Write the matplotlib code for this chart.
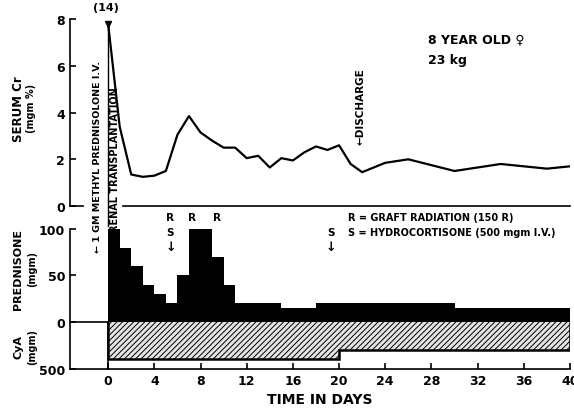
import numpy as np
import matplotlib
matplotlib.use("Agg")
import matplotlib.pyplot as plt

plt.rcParams['font.family'] = ['DejaVu Sans']
plt.rcParams['font.weight'] = 'bold'
plt.rcParams['hatch.linewidth'] = 0.7

# serum creatinine (mgm %), day 0 is off scale (14)
cr_days = [0, 1, 2, 3, 4, 5, 6, 7, 8, 9, 10, 11, 12, 13, 14, 15, 16, 17, 18, 19, 20,
           21, 22, 23, 24, 26, 28, 30, 32, 34, 36, 38, 40]
cr_vals = [7.8, 3.4, 1.35, 1.25, 1.3, 1.5, 3.05, 3.85, 3.15, 2.8, 2.5, 2.5, 2.05, 2.15,
           1.65, 2.05, 1.95, 2.3, 2.55, 2.4, 2.6, 1.8, 1.45, 1.65, 1.85, 2.0, 1.75,
           1.5, 1.65, 1.8, 1.7, 1.6, 1.7]

# prednisone (mgm) steps
pred_edges = [0, 1, 2, 3, 4, 5, 6, 7, 9, 10, 11, 15, 18, 30, 40]
pred_dose = [100, 80, 60, 40, 30, 20, 50, 100, 70, 40, 20, 15, 20, 15]

# cyclosporin A (mgm) steps
cya_edges = [0, 20, 40]
cya_dose = [400, 300]

x_ticks = [0, 4, 8, 12, 16, 20, 24, 28, 32, 36, 40]
xlo, xhi = -3.3, 40

fig = plt.figure(figsize=(5.74, 4.10), dpi=100)
ax1 = fig.add_axes([0.122, 0.495, 0.871, 0.456])
ax2 = fig.add_axes([0.122, 0.0976, 0.871, 0.3415])
ax1.set_zorder(3)
ax1.patch.set_visible(False)

# ---- top panel
ax1.plot(cr_days, cr_vals, color='black', lw=1.6)
ax1.plot([0], [7.8], marker='v', color='black', ms=5, clip_on=False)
ax1.text(-0.2, 8.3, '(14)', ha='center', va='bottom', fontsize=8, clip_on=False)
ax1.plot([0, 0], [7.8, -0.85], color='black', lw=1.0, clip_on=False)
ax1.plot([xlo, -2.2], [0, 0], color='black', lw=1.2, clip_on=False)
ax1.plot([1.3, 40], [0, 0], color='black', lw=1.2, clip_on=False)
ax1.set_xlim(xlo, xhi)
ax1.set_ylim(0, 8)
ax1.set_yticks([0, 2, 4, 6, 8])
ax1.set_xticks([])
for s in ['top', 'right', 'bottom']:
    ax1.spines[s].set_visible(False)
ax1.spines['left'].set_linewidth(1.2)
ax1.tick_params(axis='y', direction='in', length=4, width=1.2, labelsize=9)
for lab in ax1.get_yticklabels():
    lab.set_fontweight('bold')
ax1.text(-7.8, 4.2, 'SERUM Cr', rotation=90, ha='center', va='center', fontsize=8.5, clip_on=False)
ax1.text(-6.7, 4.2, '(mgm %)', rotation=90, ha='center', va='center', fontsize=7, clip_on=False)

ax1.text(-0.95, -1.97, '\u2190 1 GM METHYL PREDNISOLONE I.V.', rotation=90,
         ha='center', va='bottom', fontsize=6.8, clip_on=False)
ax1.text(0.6, -1.07, 'RENAL TRANSPLANTATION', rotation=90,
         ha='center', va='bottom', fontsize=7, clip_on=False)
ax1.text(21.85, 2.65, '\u2190DISCHARGE', rotation=90, ha='center', va='bottom', fontsize=7.5)
ax1.text(27.7, 7.14, '8 YEAR OLD \u2640', ha='left', va='center', fontsize=9)
ax1.text(27.7, 6.28, '23 kg', ha='left', va='center', fontsize=9)

# ---- bottom panel
ax2.stairs(pred_dose, pred_edges, baseline=0, fill=True, color='black')
cya_plot = -np.array(cya_dose) / 10.0
ax2.stairs(cya_plot, cya_edges, baseline=0, fill=True, facecolor='#e4e4e4',
           edgecolor='black', hatch='//////', lw=0)
ax2.stairs(cya_plot, cya_edges, baseline=0, fill=False, color='black', lw=1.8)
ax2.plot([xlo, 0], [0, 0], color='black', lw=1.2, clip_on=False)
ax2.plot([0, 0], [0, -50.5], color='black', lw=1.2, clip_on=False)

ax2.set_xlim(xlo, xhi)
ax2.set_ylim(-50.5, 100)
ax2.set_yticks([100, 50, 0, -50])
ax2.set_yticklabels(['100', '50', '0', '500'])
ax2.set_xticks(x_ticks)
for s in ['top', 'right']:
    ax2.spines[s].set_visible(False)
ax2.spines['left'].set_linewidth(1.2)
ax2.spines['bottom'].set_linewidth(1.2)
ax2.tick_params(direction='in', length=4, width=1.2, labelsize=9)
for lab in ax2.get_xticklabels() + ax2.get_yticklabels():
    lab.set_fontweight('bold')
ax2.set_xlabel('TIME IN DAYS', fontsize=10, fontweight='bold', labelpad=4)

ax2.text(-7.8, 58, 'PREDNISONE', rotation=90, ha='center', va='center', fontsize=8, clip_on=False)
ax2.text(-6.6, 58, '(mgm)', rotation=90, ha='center', va='center', fontsize=7, clip_on=False)
ax2.text(-7.8, -26, 'CyA', rotation=90, ha='center', va='center', fontsize=8, clip_on=False)
ax2.text(-6.6, -26, '(mgm)', rotation=90, ha='center', va='center', fontsize=7, clip_on=False)

for xr in [5.4, 7.3, 9.4]:
    ax2.text(xr, 112.5, 'R', ha='center', va='center', fontsize=7.5, clip_on=False)
for xs in [5.4, 19.3]:
    ax2.text(xs, 96.5, 'S', ha='center', va='center', fontsize=7.5)
    ax2.text(xs, 81, '\u2193', ha='center', va='center', fontsize=9)
ax2.text(20.8, 112.5, 'R = GRAFT RADIATION (150 R)', ha='left', va='center', fontsize=7, clip_on=False)
ax2.text(20.8, 96.5, 'S = HYDROCORTISONE (500 mgm I.V.)', ha='left', va='center', fontsize=7)

fig.savefig('out.png', dpi=100)
